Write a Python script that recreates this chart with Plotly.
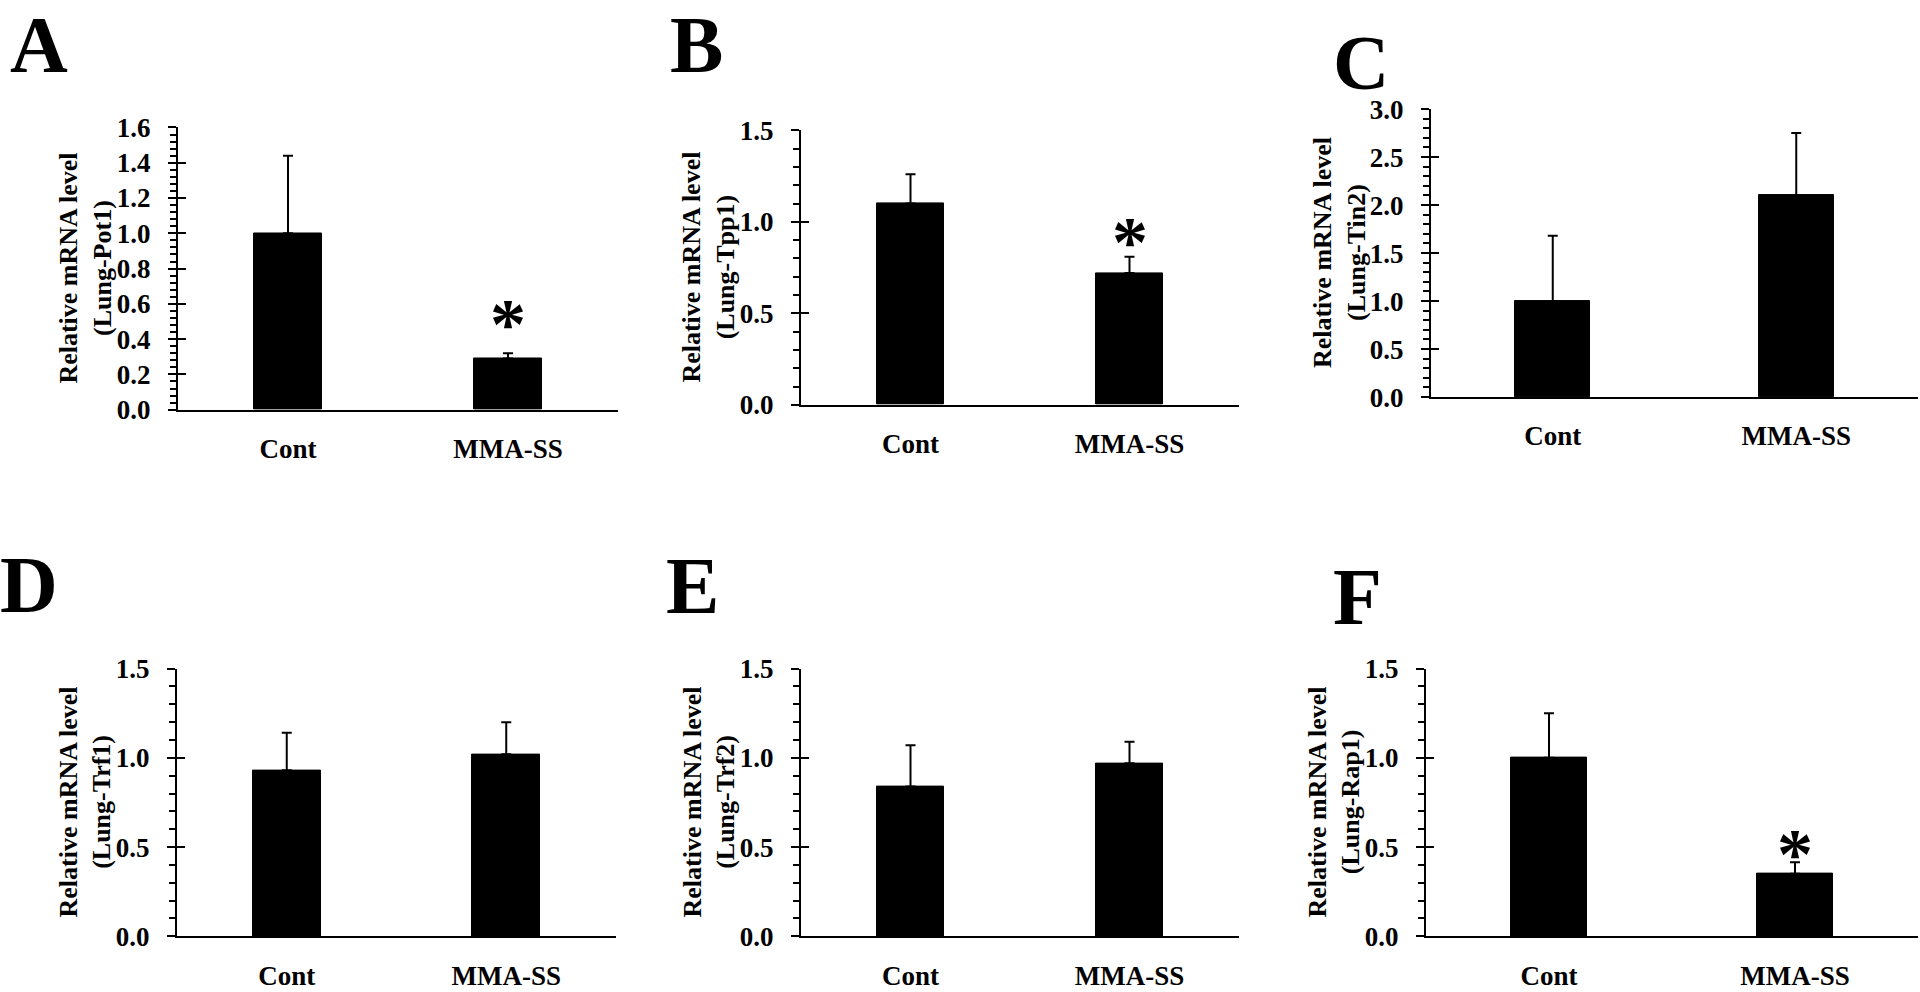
import plotly.graph_objects as go

# ---------------- data ----------------
categories = ["Cont", "MMA-SS"]
panel_letters = ["A", "B", "C", "D", "E", "F"]
genes = ["Pot1", "Tpp1", "Tin2", "Trf1", "Trf2", "Rap1"]

mean_pot1 = [1.00, 0.29]
sd_pot1 = [0.44, 0.03]
mean_tpp1 = [1.10, 0.72]
sd_tpp1 = [0.16, 0.09]
mean_tin2 = [1.00, 2.10]
sd_tin2 = [0.68, 0.65]
mean_trf1 = [0.93, 1.02]
sd_trf1 = [0.21, 0.18]
mean_trf2 = [0.84, 0.97]
sd_trf2 = [0.23, 0.12]
mean_rap1 = [1.00, 0.35]
sd_rap1 = [0.25, 0.065]

means = [mean_pot1, mean_tpp1, mean_tin2, mean_trf1, mean_trf2, mean_rap1]
sds = [sd_pot1, sd_tpp1, sd_tin2, sd_trf1, sd_trf2, sd_rap1]

y_max = [1.6, 1.5, 3.0, 1.5, 1.5, 1.5]
y_major = [0.2, 0.5, 0.5, 0.5, 0.5, 0.5]
y_minor = [0.04, 0.1, 0.1, 0.1, 0.1, 0.1]

# significance marker (category, height of the asterisk centre)
sig_cat = ["MMA-SS", "MMA-SS", None, None, None, "MMA-SS"]
sig_y = [0.55, 0.95, None, None, None, 0.52]

# ---------------- layout geometry (pixels in a 1920x992 page) ----------------
W, H = 1920, 992
x_px = [(178, 618), (801, 1239), (1431, 1918), (177, 616), (801, 1239), (1426, 1918)]
y_px = [(116, 407), (119, 402), (97, 394), (674, 950), (674, 950), (674, 950)]
letter_pos = [(8, 31), (668, 31), (1331, 49), (-2, 588), (664, 589), (1331, 600)]
letter_size = [80, 80, 78, 80, 80, 80]

FONT = "Liberation Serif"
txt = dict(family=FONT, size=27, color="black", weight="bold")

fig = go.Figure()
layout = dict(
    width=W, height=H,
    margin=dict(l=0, r=0, t=0, b=0),
    paper_bgcolor="white", plot_bgcolor="white",
    showlegend=False, annotations=[],
    bargap=0,
)

for i in range(6):
    n = i + 1
    ov = i + 7
    xs = "" if n == 1 else str(n)
    xa, ya, yo = f"xaxis{xs}", f"yaxis{xs}", f"yaxis{ov}"
    xref, yref = f"x{xs}", f"y{xs}"

    fig.add_trace(go.Bar(
        x=categories, y=means[i], xaxis=xref, yaxis=yref,
        width=0.31,
        marker=dict(color="black", line=dict(color="black", width=1)),
        error_y=dict(type="data", array=sds[i], arrayminus=[0, 0], symmetric=False,
                     thickness=2, width=5, color="black"),
        hoverinfo="skip",
    ))
    # invisible trace to hold the overlay axis (inside half of crossing major ticks)
    fig.add_trace(go.Scatter(x=categories, y=[None, None], xaxis=xref, yaxis=f"y{ov}",
                             mode="markers", hoverinfo="skip"))

    x0, x1 = x_px[i]
    yt, yb = y_px[i]
    dom_x = [x0 / W, x1 / W]
    dom_y = [1 - yb / H, 1 - yt / H]

    layout[xa] = dict(
        domain=dom_x, anchor=yref, type="category", range=[-0.5, 1.5],
        showline=True, linewidth=2, linecolor="black", ticks="",
        showgrid=False, zeroline=False, tickfont=txt, ticklabelstandoff=14,
        fixedrange=True,
    )
    layout[ya] = dict(
        domain=dom_y, anchor=xref, range=[0, y_max[i]],
        showline=True, linewidth=2, linecolor="black",
        ticks="outside", ticklen=8, tickwidth=2, tickcolor="black",
        dtick=y_major[i], tick0=0, tickformat=".1f",
        minor=dict(ticks="outside", ticklen=6, tickwidth=1.5, tickcolor="black",
                   dtick=y_minor[i], tick0=0, showgrid=False),
        showgrid=False, zeroline=False, tickfont=txt, ticklabelstandoff=12,
        fixedrange=True,
    )
    layout[yo] = dict(
        overlaying=yref, anchor=xref, side="left", range=[0, y_max[i]],
        showline=False, ticks="inside", ticklen=8, tickwidth=2, tickcolor="black",
        dtick=y_major[i], tick0=0, showticklabels=False,
        showgrid=False, zeroline=False, fixedrange=True,
    )

    # y-axis title (two lines, rotated)
    layout["annotations"].append(dict(
        xref=f"{xref} domain", yref=f"{yref} domain", x=0, y=0.5,
        xanchor="center", yanchor="middle", xshift=-92, textangle=-90,
        text=f"Relative mRNA level<br>(Lung-{genes[i]})", showarrow=False,
        font=dict(family=FONT, size=26, color="black", weight="bold"),
    ))
    # panel letter
    lx, ly = letter_pos[i]
    layout["annotations"].append(dict(
        xref="paper", yref="paper", x=lx / W, y=1 - ly / H,
        xanchor="left", yanchor="middle", text=panel_letters[i], showarrow=False,
        font=dict(family=FONT, size=letter_size[i], color="black", weight="bold"),
    ))
    # significance asterisk
    if sig_cat[i] is not None:
        layout["annotations"].append(dict(
            xref=xref, yref=yref, x=sig_cat[i], y=sig_y[i],
            xanchor="center", yanchor="middle", yshift=-11, text="*", showarrow=False,
            font=dict(family=FONT, size=72, color="black", weight="bold"),
        ))

fig.update_layout(**layout)
fig.write_html("out.html", config={"displayModeBar": False},
               post_script="document.body.style.margin='0';")
